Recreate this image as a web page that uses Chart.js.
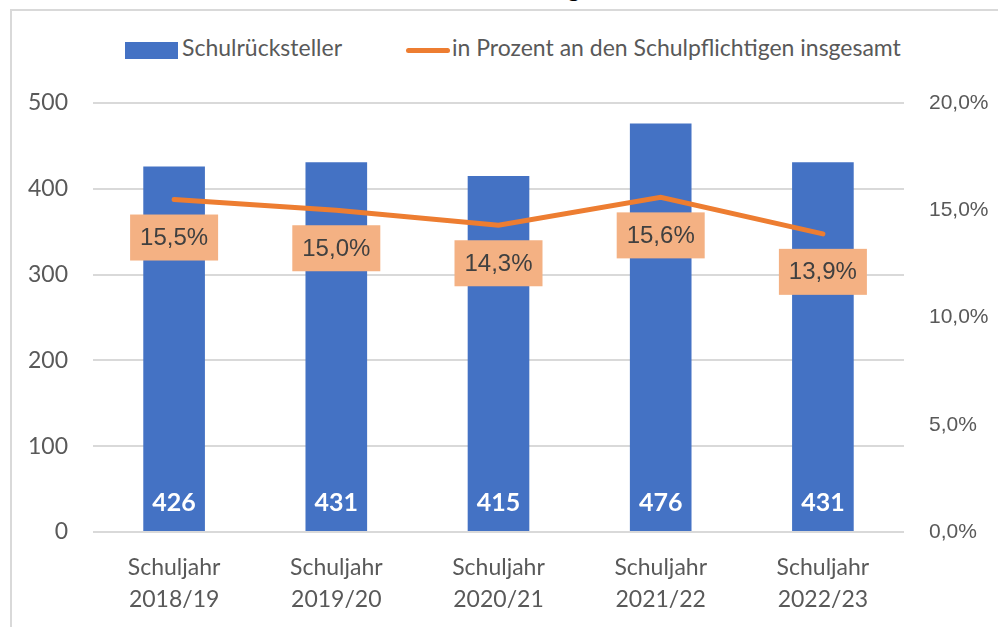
<!DOCTYPE html>
<html>
<head>
<meta charset="utf-8">
<script src="https://cdn.jsdelivr.net/npm/chart.js@4"></script>
<style>
  html, body { margin: 0; padding: 0; background: #fff; }
  #wrap { position: relative; width: 998px; height: 627px; overflow: hidden; }
  #frame { position: absolute; left: 10px; top: 9px; width: 1000px; height: 700px; border-top: 2px solid #d9d9d9; border-left: 2px solid #d9d9d9; }
  #title { position: absolute; left: 0; width: 998px; top: -27px; text-align: center; font: bold 24px Lato, sans-serif; color: #000; }
  #legend { position: absolute; top: 32px; left: 0; width: 998px; font: 23px Lato, sans-serif; color: #595959; }
  .item { position: absolute; top: 0; white-space: nowrap; line-height: 30px; }
  .swatch { display: inline-block; vertical-align: middle; }
  canvas { position: absolute; left: 0; top: 0; }
</style>
</head>
<body>
<div id="wrap">
  <div id="frame"></div>
  <div id="title">Schulrückstellungen</div>
  <div id="legend">
    <div class="item" style="left:125px"><span class="swatch" style="width:53px;height:17px;background:#4472C4;margin-right:4px"></span>Schulrücksteller</div>
    <div class="item" style="left:406px"><span class="swatch" style="width:44px;height:5px;border-radius:3px;background:#ED7D31;margin-right:2px"></span>in Prozent an den Schulpflichtigen insgesamt</div>
  </div>
  <canvas id="chart" width="998" height="627"></canvas>
</div>
<script>
const categories = [['Schuljahr', '2018/19'], ['Schuljahr', '2019/20'], ['Schuljahr', '2020/21'], ['Schuljahr', '2021/22'], ['Schuljahr', '2022/23']];
const rueckstellerValues = [426, 431, 415, 476, 431];
const prozentValues = [15.5, 15.0, 14.3, 15.6, 13.9];
const leftTicks = [0, 100, 200, 300, 400, 500];
const rightTicks = [0, 5, 10, 15, 20];

const fmtPct = v => v.toFixed(1).replace('.', ',') + '%';

// draws the value labels (numbers in bars, orange boxes under line points)
const labelPlugin = {
    id: 'labels',
    afterDatasetsDraw(chart) {
        const ctx = chart.ctx;
        const yScale = chart.scales.y;
        ctx.save();
        ctx.textAlign = 'center';
        ctx.textBaseline = 'middle';

        chart.getDatasetMeta(0).data.forEach((bar, i) => {
            ctx.font = 'bold 25px Lato, sans-serif';
            ctx.fillStyle = '#ffffff';
            ctx.fillText(String(rueckstellerValues[i]), bar.x, yScale.getPixelForValue(0) - 29);
        });

        chart.getDatasetMeta(1).data.forEach((pt, i) => {
            const cy = pt.y + 38;
            ctx.fillStyle = '#F4B183';
            ctx.fillRect(pt.x - 44, cy - 23, 88, 46);
            ctx.font = '24px "Liberation Sans", Arial, sans-serif';
            ctx.fillStyle = '#404040';
            ctx.fillText(fmtPct(prozentValues[i]), pt.x, cy + 1);
        });
        ctx.restore();
    }
};

new Chart(document.getElementById('chart'), {
    data: {
        labels: categories,
        datasets: [
            { type: 'bar', label: 'Schulrücksteller', data: rueckstellerValues, yAxisID: 'y', backgroundColor: '#4472C4', barPercentage: 0.38, categoryPercentage: 1, order: 1 },
            { type: 'line', label: 'in Prozent an den Schulpflichtigen insgesamt', data: prozentValues, yAxisID: 'y1', borderColor: '#ED7D31', borderWidth: 5, borderCapStyle: 'round', pointRadius: 0, tension: 0, order: 0 }
        ]
    },
    options: {
        responsive: false,
        animation: false,
        layout: { padding: { top: 103, left: 0, right: 0, bottom: 0 } },
        plugins: { legend: { display: false }, tooltip: { enabled: false } },
        scales: {
            x: {
                grid: { display: false, drawTicks: false },
                border: { display: false },
                ticks: { color: '#595959', font: { family: 'Lato, sans-serif', size: 23, lineHeight: 1.39 }, padding: 20, maxRotation: 0 },
                afterFit: s => { s.height = 95; }
            },
            y: {
                position: 'left', min: 0, max: 500,
                afterBuildTicks: s => { s.ticks = leftTicks.map(v => ({ value: v })); },
                grid: { color: '#d9d9d9', lineWidth: 2, drawTicks: false },
                border: { display: false },
                ticks: { color: '#595959', font: { family: 'Lato, sans-serif', size: 23 }, padding: 25 },
                afterFit: s => { s.width = 93; }
            },
            y1: {
                position: 'right', min: 0, max: 20,
                afterBuildTicks: s => { s.ticks = rightTicks.map(v => ({ value: v })); },
                grid: { display: false, drawTicks: false },
                border: { display: false },
                ticks: { color: '#595959', font: { family: '"Liberation Sans", Arial, sans-serif', size: 21 }, padding: 25, callback: v => fmtPct(v) },
                afterFit: s => { s.width = 94; }
            }
        }
    },
    plugins: [labelPlugin]
});
</script>
</body>
</html>
